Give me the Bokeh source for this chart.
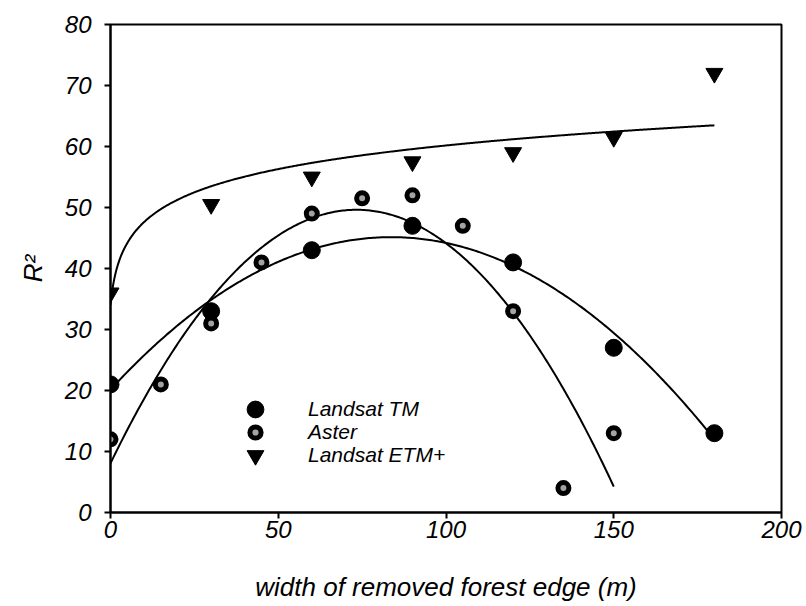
import numpy as np
from bokeh.plotting import figure
from bokeh.models import Range1d, Legend, LegendItem, FixedTicker
from bokeh.embed import file_html
from bokeh.resources import INLINE

# R² values against width of removed forest edge (m)
tm_x = [0, 30, 60, 90, 120, 150, 180]
tm_y = [21, 33, 43, 47, 41, 27, 13]

aster_x = [0, 15, 30, 45, 60, 75, 90, 105, 120, 135, 150]
aster_y = [12, 21, 31, 41, 49, 51.5, 52, 47, 33, 4, 13]

etm_x = [0, 30, 60, 90, 120, 150, 180]
etm_y = [36, 50.5, 55, 57.5, 59, 61.5, 72]

x_ticks = [0, 50, 100, 150, 200]
y_ticks = [0, 10, 20, 30, 40, 50, 60, 70, 80]

FONT = "Liberation Sans"

p = figure(width=806, height=606, output_backend="svg", toolbar_location=None,
           x_range=Range1d(0, 200), y_range=Range1d(0, 80),
           min_border_left=110, min_border_right=25, min_border_top=24, min_border_bottom=94)
p.background_fill_color = "white"
p.border_fill_color = "white"
p.outline_line_color = "black"
p.outline_line_width = 2
p.xgrid.visible = False
p.ygrid.visible = False

for ax in (p.xaxis, p.yaxis):
    ax.axis_line_width = 2
    ax.major_tick_line_width = 2
    ax.major_tick_in = 0
    ax.major_tick_out = 6
    ax.minor_tick_line_color = None
    ax.major_label_text_font = FONT
    ax.major_label_text_font_style = "italic"
    ax.major_label_text_font_size = "24px"
    ax.major_label_text_color = "black"
    ax.axis_label_text_font = FONT
    ax.axis_label_text_font_style = "italic"
    ax.axis_label_text_color = "black"

p.xaxis.ticker = FixedTicker(ticks=x_ticks)
p.yaxis.ticker = FixedTicker(ticks=y_ticks)
p.xaxis.major_label_standoff = 2
p.yaxis.major_label_standoff = 13
p.xaxis.axis_label = "width of removed forest edge (m)"
p.xaxis.axis_label_text_font_size = "26px"
p.xaxis.axis_label_standoff = 31
p.yaxis.axis_label = "R²"
p.yaxis.axis_label_text_font_size = "26px"
p.yaxis.axis_label_standoff = 14

# Trend lines: quadratic fits for TM and Aster, logarithmic fit for ETM+
tm_c = np.polyfit(tm_x, tm_y, 2)
xs_tm = np.linspace(0, 180, 300)
p.line(xs_tm, np.polyval(tm_c, xs_tm), line_color="black", line_width=2)

as_c = np.polyfit(aster_x, aster_y, 2)
xs_as = np.linspace(0, 150, 300)
p.line(xs_as, np.polyval(as_c, xs_as), line_color="black", line_width=2)

etm_c = np.polyfit(np.log(np.array(etm_x) + 1.0), etm_y, 1)
xs_etm = np.linspace(0, 180, 600)
p.line(xs_etm, np.polyval(etm_c, np.log(xs_etm + 1.0)), line_color="black", line_width=2)

# Markers
r_tm = p.scatter(tm_x, tm_y, marker="circle", size=17, fill_color="black", line_color="black")
r_as = p.scatter(aster_x, aster_y, marker="circle", size=11, fill_color="#a3a3a3",
                 line_color="black", line_width=5)
r_etm = p.scatter(etm_x, etm_y, marker="inverted_triangle", size=17, fill_color="black", line_color="black")


def legend_entry(label, renderer, glyph, loc, standoff):
    leg = Legend(items=[LegendItem(label=label, renderers=[renderer])], location=loc)
    leg.border_line_color = None
    leg.background_fill_alpha = 0
    leg.padding = 0
    leg.margin = 0
    leg.spacing = 0
    leg.glyph_width = glyph
    leg.glyph_height = glyph
    leg.label_height = glyph
    leg.label_standoff = standoff
    leg.label_text_font = FONT
    leg.label_text_font_style = "italic"
    leg.label_text_font_size = "21px"
    leg.label_text_color = "black"
    leg.label_text_line_height = 1.0
    p.add_layout(leg)


legend_entry("Landsat TM", r_tm, 42, (124, 82), 32)
legend_entry("Aster", r_as, 28, (131, 66), 39)
legend_entry("Landsat ETM+", r_etm, 42, (124, 36), 32)

open("out.html", "w").write(file_html(p, INLINE))
